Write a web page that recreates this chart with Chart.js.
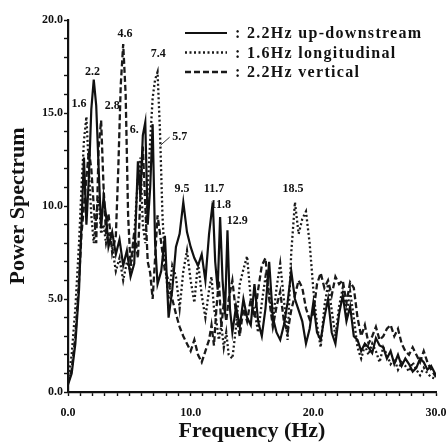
<!DOCTYPE html>
<html>
<head>
<meta charset="utf-8">
<script src="https://cdn.jsdelivr.net/npm/chart.js@4.4.1/dist/chart.umd.min.js"></script>
<style>
  html, body { margin: 0; padding: 0; background: #fff; }
  #wrap { width: 446px; height: 445px; }
</style>
</head>
<body>
<div id="wrap"><canvas id="spectrumChart" width="446" height="445"></canvas></div>
<script>
const SERIF = '"Liberation Serif", "DejaVu Serif", serif';

// frequency (Hz) and power values
const FREQ_UPDOWN = [0.0, 0.3, 0.6, 0.9, 1.1, 1.3, 1.5, 1.7, 1.9, 2.1, 2.3, 2.5, 2.7, 2.9, 3.1, 3.3, 3.6, 3.9, 4.2, 4.5, 4.8, 5.1, 5.4, 5.7, 5.9, 6.1, 6.3, 6.5, 6.7, 6.9, 7.1, 7.3, 7.6, 7.9, 8.2, 8.5, 8.8, 9.1, 9.4, 9.7, 10.0, 10.3, 10.6, 10.9, 11.2, 11.5, 11.8, 12.0, 12.2, 12.4, 12.6, 12.8, 13.0, 13.2, 13.4, 13.7, 14.0, 14.3, 14.6, 14.9, 15.2, 15.5, 15.8, 16.1, 16.4, 16.7, 17.0, 17.3, 17.6, 17.9, 18.2, 18.5, 18.8, 19.1, 19.4, 19.7, 20.0, 20.3, 20.6, 20.9, 21.2, 21.5, 21.8, 22.1, 22.4, 22.7, 23.0, 23.3, 23.6, 23.9, 24.2, 24.5, 24.8, 25.1, 25.4, 25.7, 26.0, 26.3, 26.6, 26.9, 27.2, 27.5, 27.8, 28.1, 28.4, 28.7, 29.0, 29.3, 29.6, 30.0];
const POWER_UPDOWN = [0.4, 1.0, 2.6, 5.5, 9.0, 12.6, 9.0, 11.5, 15.2, 16.8, 15.4, 12.0, 8.8, 10.5, 9.5, 7.8, 8.6, 7.4, 8.2, 6.8, 7.6, 6.2, 6.9, 12.4, 10.5, 13.8, 14.5, 9.0, 11.0, 14.4, 8.0, 5.8, 6.5, 8.4, 4.0, 5.5, 7.8, 8.5, 10.2, 8.6, 7.8, 7.2, 6.8, 7.4, 6.0, 8.5, 10.2, 7.0, 5.5, 9.4, 6.0, 4.2, 8.7, 4.5, 3.2, 4.6, 3.5, 5.0, 4.0, 3.6, 5.8, 3.8, 3.0, 4.5, 7.0, 4.0, 3.2, 2.8, 3.6, 4.8, 6.5, 5.0, 4.4, 3.8, 2.6, 3.4, 4.8, 3.2, 2.8, 4.0, 5.0, 3.2, 2.6, 4.2, 5.2, 3.8, 4.6, 3.0, 2.8, 2.2, 2.6, 2.4, 2.1, 2.9, 2.5, 2.4, 1.8, 2.2, 1.5, 2.0, 1.4, 1.8, 1.5, 1.1, 1.3, 1.8, 1.6, 1.2, 1.4, 0.9];

const FREQ_LONG = [0.0, 0.3, 0.6, 0.9, 1.1, 1.3, 1.5, 1.7, 1.9, 2.1, 2.3, 2.5, 2.7, 2.9, 3.1, 3.3, 3.6, 3.9, 4.2, 4.5, 4.8, 5.1, 5.4, 5.7, 5.9, 6.1, 6.3, 6.5, 6.7, 6.9, 7.1, 7.3, 7.5, 7.7, 7.9, 8.2, 8.5, 8.8, 9.1, 9.4, 9.7, 10.0, 10.3, 10.6, 10.9, 11.2, 11.5, 11.7, 11.9, 12.1, 12.3, 12.5, 12.7, 12.9, 13.1, 13.4, 13.7, 14.0, 14.3, 14.6, 14.9, 15.2, 15.5, 15.8, 16.1, 16.4, 16.7, 17.0, 17.3, 17.6, 17.9, 18.2, 18.5, 18.8, 19.1, 19.4, 19.7, 20.0, 20.3, 20.6, 20.9, 21.2, 21.5, 21.8, 22.1, 22.4, 22.7, 23.0, 23.3, 23.6, 23.9, 24.2, 24.5, 24.8, 25.1, 25.4, 25.7, 26.0, 26.3, 26.6, 26.9, 27.2, 27.5, 27.8, 28.1, 28.4, 28.7, 29.0, 29.3, 29.6, 30.0];
const POWER_LONG = [0.6, 2.0, 4.5, 8.0, 11.0, 13.5, 14.8, 12.0, 9.5, 8.0, 9.5, 10.5, 8.5, 9.0, 8.0, 8.6, 7.8, 6.5, 7.2, 6.0, 7.0, 6.5, 8.4, 11.5, 12.6, 9.0, 8.0, 11.0, 13.5, 15.8, 16.8, 17.2, 14.0, 9.5, 7.0, 5.0, 6.8, 6.2, 4.5, 6.5, 7.6, 6.0, 4.8, 7.0, 5.2, 4.0, 5.5, 6.2, 4.5, 3.8, 2.8, 3.6, 2.4, 3.2, 2.0, 1.8, 3.5, 5.8, 6.6, 7.3, 5.0, 4.4, 3.2, 4.8, 6.2, 5.4, 3.8, 5.6, 6.9, 5.0, 2.8, 7.5, 10.2, 8.5, 9.3, 9.7, 8.0, 5.5, 3.6, 2.4, 4.6, 5.8, 4.4, 3.0, 4.6, 5.6, 4.2, 5.4, 4.0, 2.4, 1.8, 2.5, 2.0, 2.6, 2.2, 1.6, 2.4, 2.0, 1.5, 1.8, 1.2, 1.6, 1.4, 1.1, 1.6, 1.2, 0.9, 1.3, 1.0, 0.8, 0.7];

const FREQ_VERT = [0.0, 0.3, 0.6, 0.9, 1.1, 1.3, 1.5, 1.7, 1.9, 2.1, 2.3, 2.5, 2.7, 2.9, 3.1, 3.3, 3.6, 3.9, 4.1, 4.3, 4.5, 4.7, 4.9, 5.1, 5.4, 5.7, 5.9, 6.1, 6.3, 6.5, 6.7, 6.9, 7.1, 7.3, 7.6, 7.9, 8.2, 8.5, 8.8, 9.1, 9.4, 9.7, 10.0, 10.3, 10.6, 10.9, 11.2, 11.5, 11.7, 11.9, 12.1, 12.3, 12.5, 12.7, 12.9, 13.1, 13.4, 13.7, 14.0, 14.3, 14.6, 14.9, 15.2, 15.5, 15.8, 16.1, 16.4, 16.7, 17.0, 17.3, 17.6, 17.9, 18.2, 18.5, 18.8, 19.1, 19.4, 19.7, 20.0, 20.3, 20.6, 20.9, 21.2, 21.5, 21.8, 22.1, 22.4, 22.7, 23.0, 23.3, 23.6, 23.9, 24.2, 24.5, 24.8, 25.1, 25.4, 25.7, 26.0, 26.3, 26.6, 26.9, 27.2, 27.5, 27.8, 28.1, 28.4, 28.7, 29.0, 29.3, 29.6, 30.0];
const POWER_VERT = [0.5, 1.2, 3.0, 6.0, 8.5, 10.0, 11.5, 13.0, 12.0, 10.0, 8.0, 13.2, 14.6, 11.0, 8.5, 9.6, 7.5, 8.4, 12.0, 16.5, 18.7, 16.0, 9.5, 6.8, 8.6, 7.2, 10.5, 13.2, 10.0, 7.0, 6.4, 5.0, 7.2, 9.5, 8.0, 6.5, 6.0, 5.0, 4.2, 3.5, 3.0, 2.6, 2.2, 2.8, 2.0, 1.6, 2.2, 2.8, 3.6, 2.5, 4.5, 6.0, 3.5, 4.8, 3.8, 5.0, 6.0, 4.2, 3.0, 4.5, 3.8, 5.0, 4.0, 5.5, 6.8, 7.2, 5.0, 3.5, 4.6, 5.4, 3.8, 3.2, 4.4, 5.2, 6.0, 5.6, 4.5, 3.9, 4.2, 5.8, 6.4, 5.6, 6.0, 5.2, 6.2, 5.8, 6.0, 4.8, 5.9, 5.6, 4.0, 3.0, 3.6, 2.6, 3.0, 3.5, 2.8, 3.0, 3.4, 3.6, 3.0, 3.4, 2.6, 2.2, 2.0, 2.4, 2.0, 1.6, 2.2, 1.6, 1.2, 0.8];

const SERIES_LABELS = [": 2.2Hz up-downstream", ": 1.6Hz longitudinal", ": 2.2Hz vertical"];

// peak annotations: text, anchor frequency, anchor power
const PEAK_TEXT = ["1.6", "2.2", "2.8", "4.6", "6.", "7.4", "5.7", "9.5", "11.7", "11.8", "12.9", "18.5"];
const PEAK_FREQ = [0.9, 2.0, 3.6, 4.65, 5.4, 7.35, 9.1, 9.3, 11.9, 12.45, 13.8, 18.35];
const PEAK_POWER = [15.5, 17.2, 15.4, 19.25, 14.1, 18.2, 13.7, 10.9, 10.9, 10.05, 9.2, 10.9];

const Y_TICK_STEP = 5;
const X_TICK_STEP = 10;

function toPoints(xs, ys) {
  return xs.map((x, i) => ({ x: x, y: ys[i] }));
}

const peakLabelPlugin = {
  id: "peakLabels",
  afterDatasetsDraw(chart) {
    const { ctx, scales } = chart;
    ctx.save();
    ctx.fillStyle = "#111";
    ctx.font = "bold 12px " + SERIF;
    ctx.textAlign = "center";
    ctx.textBaseline = "middle";
    PEAK_TEXT.forEach((txt, i) => {
      const px = scales.x.getPixelForValue(PEAK_FREQ[i]);
      const py = scales.y.getPixelForValue(PEAK_POWER[i]);
      ctx.fillText(txt, px, py);
    });
    // leader line for the 5.7 label
    const lx = scales.x.getPixelForValue(PEAK_FREQ[6]);
    const ly = scales.y.getPixelForValue(PEAK_POWER[6]);
    ctx.strokeStyle = "#333";
    ctx.lineWidth = 1;
    ctx.beginPath();
    ctx.moveTo(lx - 10, ly);
    ctx.lineTo(lx - 19, ly + 8);
    ctx.stroke();
    ctx.restore();
  },
};

const legendPlugin = {
  id: "lineLegend",
  afterDraw(chart) {
    const { ctx, chartArea } = chart;
    const x0 = chartArea.right - 251;
    ctx.save();
    ctx.font = "bold 16px " + SERIF;
    if ("letterSpacing" in ctx) ctx.letterSpacing = "1.3px";
    ctx.textBaseline = "middle";
    ctx.fillStyle = "#111";
    chart.data.datasets.forEach((ds, i) => {
      const y = chartArea.top + 13 + i * 19.5;
      ctx.strokeStyle = ds.borderColor;
      ctx.lineWidth = ds.borderWidth;
      ctx.setLineDash(ds.borderDash || []);
      ctx.beginPath();
      ctx.moveTo(x0, y);
      ctx.lineTo(x0 + 42, y);
      ctx.stroke();
      ctx.setLineDash([]);
      ctx.fillText(ds.label, x0 + 50, y + 1);
    });
    ctx.restore();
  },
};

const tickFont = { family: SERIF, size: 12, weight: "bold" };
const titleFont = { family: SERIF, size: 22, weight: "bold" };

new Chart(document.getElementById("spectrumChart"), {
  type: "line",
  data: {
    datasets: [
      {
        label: SERIES_LABELS[0],
        data: toPoints(FREQ_UPDOWN, POWER_UPDOWN),
        borderColor: "#111",
        borderWidth: 2.2,
        borderDash: [],
      },
      {
        label: SERIES_LABELS[1],
        data: toPoints(FREQ_LONG, POWER_LONG),
        borderColor: "#1a1a1a",
        borderWidth: 2.3,
        borderDash: [2, 2.5],
      },
      {
        label: SERIES_LABELS[2],
        data: toPoints(FREQ_VERT, POWER_VERT),
        borderColor: "#1a1a1a",
        borderWidth: 2.3,
        borderDash: [6, 3],
      },
    ],
  },
  options: {
    responsive: false,
    animation: false,
    devicePixelRatio: 1,
    layout: { padding: { left: 0, top: 20, right: 10, bottom: 0 } },
    elements: {
      point: { radius: 0 },
      line: { tension: 0 },
    },
    plugins: {
      legend: { display: false },
      tooltip: { enabled: false },
    },
    scales: {
      x: {
        type: "linear",
        min: 0,
        max: 30,
        afterFit: (scale) => {
          scale.height = 53;
          // let the last tick label run into the margin, like the original
          scale.paddingLeft = 0;
          scale.paddingRight = 0;
        },
        ticks: {
          stepSize: 1,
          autoSkip: false,
          maxRotation: 0,
          color: "#111",
          font: tickFont,
          padding: 10,
          callback: (v) => (v % X_TICK_STEP === 0 ? v.toFixed(1) : ""),
        },
        grid: { drawOnChartArea: false, tickLength: 4, color: "#111", tickWidth: 1.4 },
        border: { color: "#111", width: 2.2 },
        title: { display: true, text: "Frequency (Hz)", color: "#111", font: titleFont, padding: { top: 0, bottom: 0 } },
      },
      y: {
        min: 0,
        max: 20,
        afterFit: (scale) => { scale.width = 68; },
        ticks: {
          stepSize: 1,
          autoSkip: false,
          color: "#111",
          font: tickFont,
          padding: 1,
          callback: (v) => (v % Y_TICK_STEP === 0 ? v.toFixed(1) : ""),
        },
        grid: { drawOnChartArea: false, tickLength: 4, color: "#111", tickWidth: 1.4 },
        border: { color: "#111", width: 2.2 },
        title: { display: true, text: "Power Spectrum", color: "#111", font: titleFont, padding: { top: 5, bottom: 0 } },
      },
    },
  },
  plugins: [peakLabelPlugin, legendPlugin],
});
</script>
</body>
</html>
